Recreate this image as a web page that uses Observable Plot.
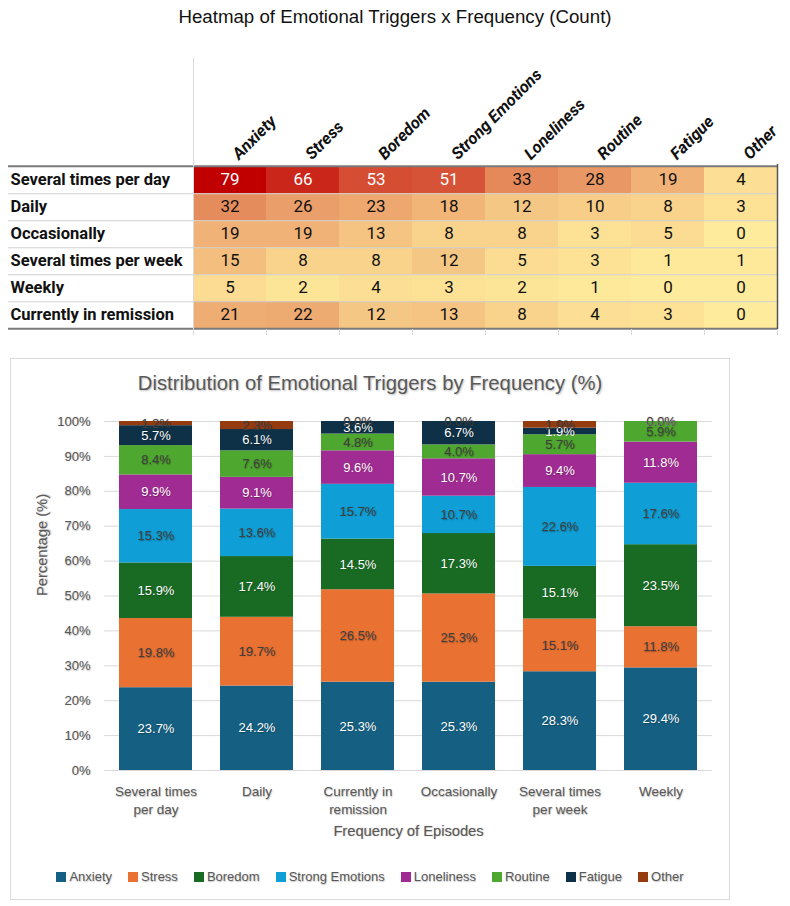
<!DOCTYPE html>
<html>
<head>
<meta charset="utf-8">
<script src="https://cdn.jsdelivr.net/npm/d3@7"></script>
<script src="https://cdn.jsdelivr.net/npm/@observablehq/plot@0.6"></script>
<style>
  html, body { margin: 0; padding: 0; background: #fff; }
  body { width: 790px; height: 906px; position: relative; overflow: hidden; font-family: "Liberation Sans", Arial, sans-serif; }
  #hmTitle { position: absolute; top: 6px; left: 0; width: 790px; text-align: center; font-size: 18.7px; color: #111; font-family: "Liberation Sans", Arial, sans-serif; }
  #hm { position: absolute; left: 0; top: 0; }
  #box { position: absolute; left: 10px; top: 358px; width: 720px; height: 542px; box-sizing: border-box; border: 1.5px solid #d9d9d9; }
  #barTitle { position: absolute; top: 372px; left: 10px; width: 720px; text-align: center; font-size: 20.3px; color: #595959; text-shadow: 1px 1px 2px rgba(0,0,0,0.25); }
  #bars { position: absolute; left: 10px; top: 400px; }
  #bars svg text { text-shadow: 0.6px 0.6px 1.2px rgba(0,0,0,0.3); }
  #legend { position: absolute; left: 10px; top: 869px; width: 720px; display: flex; justify-content: center; gap: 16px; font-size: 13px; color: #595959; text-shadow: 0.6px 0.6px 1.2px rgba(0,0,0,0.25); }
  #legend .item { display: flex; align-items: center; }
  #legend .sw { width: 10px; height: 10px; margin-right: 3px; display: inline-block; }
</style>
</head>
<body>
<div id="hmTitle">Heatmap of Emotional Triggers x Frequency (Count)</div>
<div id="hm"></div>
<div id="box"></div>
<div id="barTitle">Distribution of Emotional Triggers by Frequency (%)</div>
<div id="bars"></div>
<div id="legend"></div>
<script>
// ---------- DATA ----------
const triggers = ["Anxiety", "Stress", "Boredom", "Strong Emotions", "Loneliness", "Routine", "Fatigue", "Other"];
const triggerColors = ["#156082", "#E97132", "#196B24", "#0F9ED5", "#A02B93", "#4EA72E", "#0E3147", "#953B10"];
const whiteLabelTriggers = ["Anxiety", "Boredom", "Loneliness", "Fatigue"];

// Heatmap (counts)
const heatRows = ["Several times per day", "Daily", "Occasionally", "Several times per week", "Weekly", "Currently in remission"];
const countsSeveralPerDay = [79, 66, 53, 51, 33, 28, 19, 4];
const countsDaily = [32, 26, 23, 18, 12, 10, 8, 3];
const countsOccasionally = [19, 19, 13, 8, 8, 3, 5, 0];
const countsSeveralPerWeek = [15, 8, 8, 12, 5, 3, 1, 1];
const countsWeekly = [5, 2, 4, 3, 2, 1, 0, 0];
const countsRemission = [21, 22, 12, 13, 8, 4, 3, 0];
const heatCounts = [countsSeveralPerDay, countsDaily, countsOccasionally, countsSeveralPerWeek, countsWeekly, countsRemission];

// Stacked bars (percent labels)
const barCategories = ["Several times per day", "Daily", "Currently in remission", "Occasionally", "Several times per week", "Weekly"];
const barTickLabels = ["Several times\nper day", "Daily", "Currently in\nremission", "Occasionally", "Several times\nper week", "Weekly"];
const pctSeveralPerDay = [23.7, 19.8, 15.9, 15.3, 9.9, 8.4, 5.7, 1.2];
const pctDaily = [24.2, 19.7, 17.4, 13.6, 9.1, 7.6, 6.1, 2.3];
const pctRemission = [25.3, 26.5, 14.5, 15.7, 9.6, 4.8, 3.6, 0.0];
const pctOccasionally = [25.3, 25.3, 17.3, 10.7, 10.7, 4.0, 6.7, 0.0];
const pctSeveralPerWeek = [28.3, 15.1, 15.1, 22.6, 9.4, 5.7, 1.9, 1.9];
const pctWeekly = [29.4, 11.8, 23.5, 17.6, 11.8, 5.9, 0.0, 0.0];
const barPcts = [pctSeveralPerDay, pctDaily, pctRemission, pctOccasionally, pctSeveralPerWeek, pctWeekly];
const yTickValues = [0, 0.1, 0.2, 0.3, 0.4, 0.5, 0.6, 0.7, 0.8, 0.9, 1.0];
const yTickLabels = ["0%", "10%", "20%", "30%", "40%", "50%", "60%", "70%", "80%", "90%", "100%"];

// ---------- HEATMAP ----------
const hmData = heatRows.flatMap((r, i) => triggers.map((t, j) => ({row: r, trigger: t, count: heatCounts[i][j]})));
const narrow = "Roboto, 'Liberation Sans', sans-serif";
const half = 13.75;
const colHalf = 36.5;
const hm = Plot.plot({
  width: 790, height: 345,
  marginTop: 164, marginBottom: 16, marginLeft: 193, marginRight: 13,
  x: {domain: triggers, padding: 0, axis: null},
  y: {domain: heatRows, padding: 0, axis: null},
  color: {type: "linear", domain: [0, 79], range: ["#FFEB9C", "#C00000"]},
  style: {fontFamily: narrow, background: "transparent", color: "#111", overflow: "visible"},
  marks: [
    Plot.cell(hmData, {x: "trigger", y: "row", fill: "count"}),
    Plot.text(hmData, {x: "trigger", y: "row", text: d => d.count > 40 ? String(d.count) : null, fill: "white", fontSize: 17}),
    Plot.text(hmData, {x: "trigger", y: "row", text: d => d.count > 40 ? null : String(d.count), fill: "#111", fontSize: 17}),
    Plot.ruleY(heatRows.slice(0, -1), {y: d => d, dy: half, stroke: "#d0d0d0", strokeWidth: 1.2, insetLeft: -185}),
    Plot.ruleY([heatRows[0]], {y: d => d, dy: -half, stroke: "#7a7a7a", strokeWidth: 2, insetLeft: -185}),
    Plot.ruleY([heatRows[heatRows.length - 1]], {y: d => d, dy: half, stroke: "#7a7a7a", strokeWidth: 2, insetLeft: -185}),
    Plot.ruleX(triggers, {x: d => d, dx: -colHalf, stroke: "#d9d9d9", insetTop: 165, insetBottom: -6}),
    Plot.ruleX([triggers[0]], {x: d => d, dx: -colHalf, stroke: "#d9d9d9", insetTop: -106, insetBottom: -6}),
    Plot.ruleX([triggers[triggers.length - 1]], {x: d => d, dx: colHalf, stroke: "#d9d9d9", insetTop: 165, insetBottom: -6}),
    Plot.ruleX([triggers[triggers.length - 1]], {x: d => d, dx: colHalf, stroke: "#555", strokeWidth: 1.5}),
    Plot.text(heatRows, {y: d => d, frameAnchor: "left", dx: -183, textAnchor: "start", fontWeight: "bold", fontSize: 16.5, fill: "#111"}),
    Plot.text(triggers, {x: d => d, frameAnchor: "top", dx: 9, dy: -4, rotate: -45, textAnchor: "start", lineAnchor: "bottom", fontWeight: "bold", fontStyle: "italic", fontSize: 16.5, fill: "#111"})
  ]
});
document.getElementById("hm").appendChild(hm);

// ---------- STACKED BARS ----------
const barData = barCategories.flatMap((c, i) => triggers.map((t, j) => ({freq: c, trigger: t, pct: barPcts[i][j]})));
const lbl = d => d.pct.toFixed(1) + "%";
const stackOpts = {offset: "normalize"};
const bars = Plot.plot({
  width: 720, height: 445,
  marginTop: 21, marginBottom: 75, marginLeft: 94, marginRight: 18,
  x: {domain: barCategories, paddingInner: 0.28, paddingOuter: 0.14, label: null},
  y: {domain: [0, 1], label: null},
  color: {domain: triggers, range: triggerColors},
  style: {fontFamily: "'Liberation Sans', Arial, sans-serif", fontSize: "13px", color: "#595959", background: "transparent", overflow: "visible"},
  marks: [
    Plot.gridY(yTickValues, {stroke: "#d9d9d9", strokeOpacity: 1, strokeWidth: 1}),
    Plot.barY(barData, Plot.stackY(stackOpts, {x: "freq", y: "pct", fill: "trigger", z: "trigger"})),
    Plot.text(barData, Plot.stackY(stackOpts, {x: "freq", y: "pct", z: "trigger", text: d => whiteLabelTriggers.includes(d.trigger) ? lbl(d) : null, fill: "white", fontSize: 13})),
    Plot.text(barData, Plot.stackY(stackOpts, {x: "freq", y: "pct", z: "trigger", text: d => whiteLabelTriggers.includes(d.trigger) ? null : lbl(d), fill: "#404040", fontSize: 13})),
    Plot.axisY(yTickValues, {tickSize: 0, tickPadding: 14, tickFormat: (d, i) => yTickLabels[i], label: null, fontSize: 13}),
    Plot.axisX({tickSize: 0, tickPadding: 13, tickFormat: d => barTickLabels[barCategories.indexOf(d)], lineHeight: 1.33, label: null, fontSize: 13.5}),
    Plot.text(["Percentage (%)"], {frameAnchor: "left", dx: -62, rotate: -90, fontSize: 14.7, fill: "#595959"}),
    Plot.text(["Frequency of Episodes"], {frameAnchor: "bottom", dy: 65, fontSize: 14.7, fill: "#595959"})
  ]
});
document.getElementById("bars").appendChild(bars);

// ---------- LEGEND ----------
const legend = document.getElementById("legend");
triggers.forEach((t, i) => {
  const item = document.createElement("span");
  item.className = "item";
  const sw = document.createElement("span");
  sw.className = "sw";
  sw.style.background = triggerColors[i];
  item.appendChild(sw);
  item.appendChild(document.createTextNode(t));
  legend.appendChild(item);
});
</script>
</body>
</html>
